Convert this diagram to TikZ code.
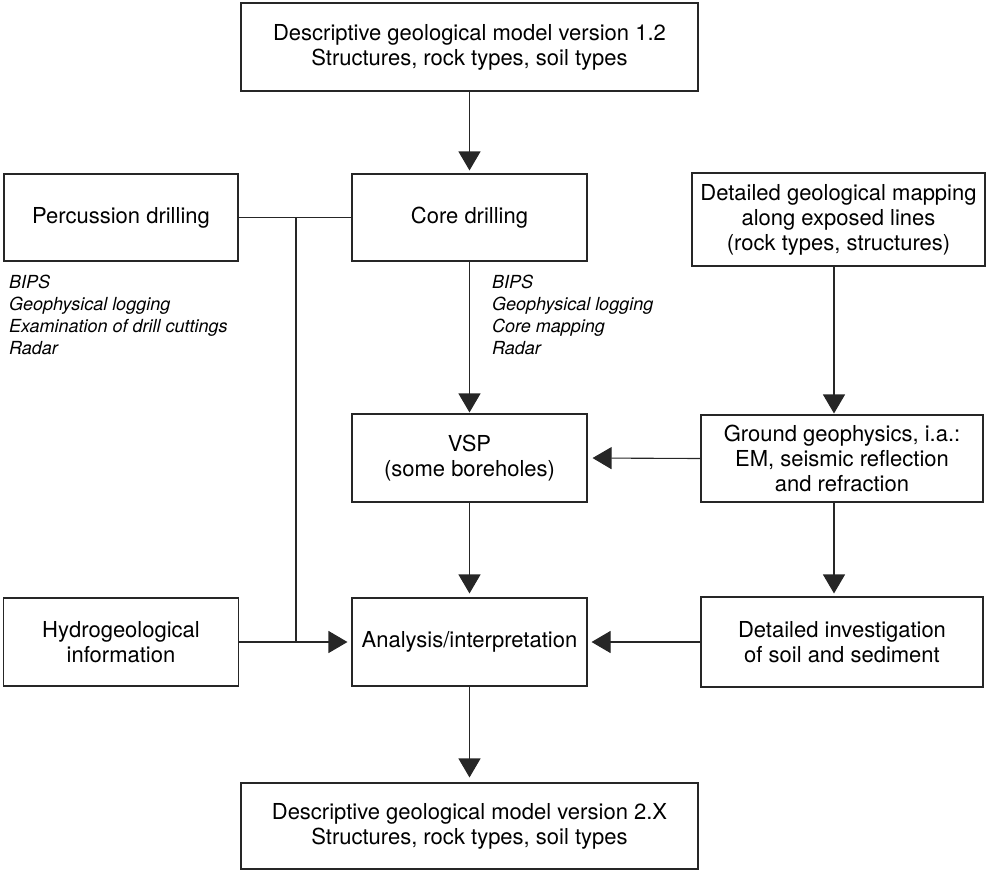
\documentclass[tikz,border=0pt]{standalone}
\usepackage{fontspec}
\setmainfont{TeX Gyre Heros}
\usetikzlibrary{arrows.meta}

\tikzset{
  box/.style={draw=black!85, line width=1.1pt, align=center, inner sep=2pt,
              font=\fontsize{22}{25}\selectfont},
  note/.style={align=left, inner sep=0pt, anchor=north west,
               font=\fontsize{18}{22}\selectfont\itshape},
  link/.style={draw=black!85, line width=1.1pt},
  arr/.style={link, -{Triangle[length=19pt,width=22pt]}},
}

\begin{document}
\begin{tikzpicture}[x=1pt, y=-1pt]
  \useasboundingbox (0,0) rectangle (989,871);

  % boxes
  \node[box, minimum width=457pt, minimum height=88pt] (top) at (469.5,47)
    {Descriptive geological model version 1.2\\Structures, rock types, soil types};
  \node[box, minimum width=234pt, minimum height=87pt] (perc) at (121,217.5)
    {Percussion drilling};
  \node[box, minimum width=235pt, minimum height=87pt] (core) at (469.5,217.5)
    {Core drilling};
  \node[box, minimum width=293pt, minimum height=93pt] (map) at (838.5,219.5)
    {Detailed geological mapping\\along exposed lines\\(rock types, structures)};
  \node[box, minimum width=235pt, minimum height=88pt] (vsp) at (469.5,458)
    {VSP\\(some boreholes)};
  \node[box, minimum width=282pt, minimum height=87pt] (geo) at (842,458.5)
    {Ground geophysics, i.a.:\\EM, seismic reflection\\and refraction};
  \node[box, minimum width=235pt, minimum height=88pt] (hydro) at (121,642)
    {Hydrogeological\\information};
  \node[box, minimum width=235pt, minimum height=88pt] (ana) at (469.5,642)
    {Analysis/interpretation};
  \node[box, minimum width=282pt, minimum height=90pt] (inv) at (842,642)
    {Detailed investigation\\of soil and sediment};
  \node[box, minimum width=457pt, minimum height=86pt] (bot) at (469.5,826)
    {Descriptive geological model version 2.X\\Structures, rock types, soil types};

  % methods listed under the drilling boxes
  \node[note] (percnote) at (9,275)
    {BIPS\\Geophysical logging\\Examination of drill cuttings\\Radar};
  \node[note] (corenote) at (492,275)
    {BIPS\\Geophysical logging\\Core mapping\\Radar};

  % drilling results collected on the left
  \coordinate (j1) at (296,217.5);
  \coordinate (j2) at (296,642);
  \draw[link] (perc.east) -- (core.west);
  \draw[link] (j1) -- (j2);

  % main flow
  \draw[arr, shorten >=3pt] (top.south) -- (core.north);
  \draw[arr, shorten >=1pt] (core.south) -- (vsp.north);
  \draw[arr, shorten >=4pt] (vsp.south) -- (ana.north);
  \draw[arr, shorten >=5pt] (ana.south) -- (bot.north);

  % right-hand column
  \coordinate (m) at ([xshift=-4.5pt]map.south);
  \draw[arr, shorten >=1pt] (m) -- (m |- geo.north);
  \coordinate (g) at ([xshift=-8pt]geo.south);
  \draw[arr, shorten >=3pt] (g) -- (g |- inv.north);
  \draw[arr, shorten >=5pt] (geo.west) -- (vsp.east);
  \draw[arr, shorten >=4pt] (inv.west) -- (ana.east);

  % hydrogeology into the analysis
  \draw[arr, shorten >=4pt] (hydro.east) -- (ana.west);
\end{tikzpicture}
\end{document}
